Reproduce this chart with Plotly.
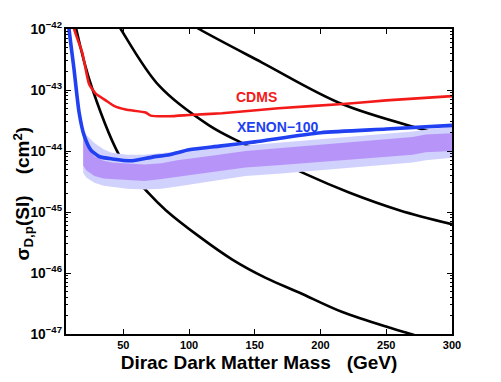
import numpy as np
import plotly.graph_objects as go

# ---------------- data ----------------
# black theoretical curves: mass (GeV), log10 sigma (cm^2)
curveA_x = [13.0, 14.2, 26.4, 49.2, 69.6, 82.3, 107.6, 132.9, 158.3, 183.7, 216.6, 254.6, 268.6, 280.0]
curveA_y = [-41.85, -42.0, -42.98, -44.16, -44.70, -44.97, -45.40, -45.78, -46.08, -46.32, -46.64, -46.91, -47.0, -47.08]
curveB_x = [45.0, 48.0, 77.2, 115.2, 143.1, 188.8, 221.7, 259.8, 300.0]
curveB_y = [-41.90, -42.0, -42.93, -43.58, -43.90, -44.38, -44.68, -44.97, -45.20]
curveC_x = [102.0, 107.6, 155.5, 216.4, 280.0, 300.0]
curveC_y = [-41.92, -42.0, -42.55, -43.23, -43.66, -43.78]

# CDMS limit
cdms_x = [12.0, 12.6, 18.8, 23.9, 29.0, 36.6, 42.9, 51.8, 67.0, 70.8, 85.0, 100.0, 125.0, 168.0, 217.0, 250.0, 300.0]
cdms_y = [-41.85, -42.0, -42.39, -42.90, -43.06, -43.17, -43.26, -43.32, -43.37, -43.42, -43.43, -43.41, -43.38, -43.30, -43.23, -43.17, -43.10]

# XENON-100 limit
xenon_x = [8.0, 8.7, 12.5, 16.3, 20.1, 25.2, 31.5, 41.6, 56.8, 72.0, 85.0, 100.0, 123.0, 150.0, 200.0, 250.0, 300.0]
xenon_y = [-41.8, -42.0, -42.66, -43.36, -43.74, -43.98, -44.09, -44.13, -44.16, -44.10, -44.06, -43.98, -43.92, -43.85, -43.70, -43.64, -43.58]

# expected sensitivity bands (log10 sigma)
band_x   = [19.5, 22, 28, 35, 41, 53, 66, 79, 91, 120, 143, 170, 196, 230, 270, 280, 300]
light_up = [-43.64, -43.74, -43.87, -43.97, -44.03, -44.06, -44.06, -44.03, -44.01, -43.95, -43.91, -43.86, -43.82, -43.76, -43.68, -43.65, -43.60]
dark_up  = [-43.78, -43.92, -44.09, -44.16, -44.19, -44.21, -44.22, -44.20, -44.15, -44.07, -44.00, -43.95, -43.90, -43.84, -43.77, -43.73, -43.71]
dark_lo  = [-44.24, -44.32, -44.41, -44.45, -44.46, -44.48, -44.49, -44.46, -44.43, -44.34, -44.27, -44.23, -44.19, -44.13, -44.06, -44.02, -44.00]
light_lo = [-44.36, -44.44, -44.52, -44.57, -44.59, -44.62, -44.63, -44.62, -44.58, -44.48, -44.41, -44.37, -44.33, -44.26, -44.19, -44.15, -44.11]

x_ticks = [50, 100, 150, 200, 250, 300]

# ---------------- figure ----------------
def p(v):
    return [10.0 ** t for t in v]

fig = go.Figure()
for cx, cy in [(curveA_x, curveA_y), (curveB_x, curveB_y), (curveC_x, curveC_y)]:
    fig.add_trace(go.Scatter(x=cx, y=p(cy), mode="lines",
                             line=dict(color="black", width=2.6, shape="spline", smoothing=1.0),
                             hoverinfo="skip"))

fig.add_trace(go.Scatter(x=band_x + band_x[::-1], y=p(light_up + light_lo[::-1]),
                         mode="lines", fill="toself", fillcolor="#d1d1fe",
                         line=dict(width=0), hoverinfo="skip"))
fig.add_trace(go.Scatter(x=band_x + band_x[::-1], y=p(dark_up + dark_lo[::-1]),
                         mode="lines", fill="toself", fillcolor="#b795f8",
                         line=dict(width=0), hoverinfo="skip"))

fig.add_trace(go.Scatter(x=xenon_x, y=p(xenon_y), mode="lines",
                         line=dict(color="#2040f2", width=3.6, shape="spline", smoothing=0.6),
                         hoverinfo="skip"))
fig.add_trace(go.Scatter(x=cdms_x, y=p(cdms_y), mode="lines",
                         line=dict(color="#f41a1a", width=2.6, shape="spline", smoothing=0.5),
                         hoverinfo="skip"))

fig.add_annotation(x=151, y=-43.11, xref="x", yref="y", text="CDMS", showarrow=False,
                   font=dict(family="Liberation Sans", size=14, color="#f41a1a", weight="bold"))
fig.add_annotation(x=167.7, y=-43.61, xref="x", yref="y", text="XENON\u2212100", showarrow=False,
                   font=dict(family="Liberation Sans", size=14, color="#2040f2", weight="bold"))

# y-axis title placed explicitly (left of the tick labels)
fig.add_annotation(xref="paper", yref="paper", x=0, y=0.5, xshift=-43, yshift=-12,
                   xanchor="center", yanchor="middle", textangle=-90, showarrow=False,
                   text="\u03c3<sub>D,p</sub>(SI)\u00a0\u00a0\u00a0\u00a0(cm<sup>2</sup>)",
                   font=dict(family="Liberation Sans", size=19, color="black", weight="bold"))

axis_common = dict(showline=True, linecolor="black", linewidth=1.5, mirror="ticks",
                   ticks="inside", tickcolor="black", tickwidth=1, showgrid=False, zeroline=False)

fig.update_layout(
    width=501, height=382,
    margin=dict(l=66, r=49, t=29, b=43),
    paper_bgcolor="white", plot_bgcolor="white",
    showlegend=False,
    font=dict(family="Liberation Sans", color="black"),
    xaxis=dict(range=[6.4, 300], tickvals=x_ticks, ticklen=5,
               tickfont=dict(size=11, weight="bold"),
               title=dict(text="Dirac Dark Matter Mass\u00a0\u00a0\u00a0(GeV)",
                          font=dict(size=19, weight="bold"), standoff=6),
               **axis_common),
    yaxis=dict(type="log", range=[-47, -42], dtick=1, exponentformat="power", ticklen=5,
               tickfont=dict(size=11, weight="bold"),
               minor=dict(ticks="inside", ticklen=2.5, tickcolor="black", showgrid=False),
               **axis_common),
)

# remove the default page margin so the 501x382 figure fills the window exactly
fig.write_html("out.html", config={"displayModeBar": False},
               post_script="document.body.style.margin='0px';document.body.style.overflow='hidden';")
